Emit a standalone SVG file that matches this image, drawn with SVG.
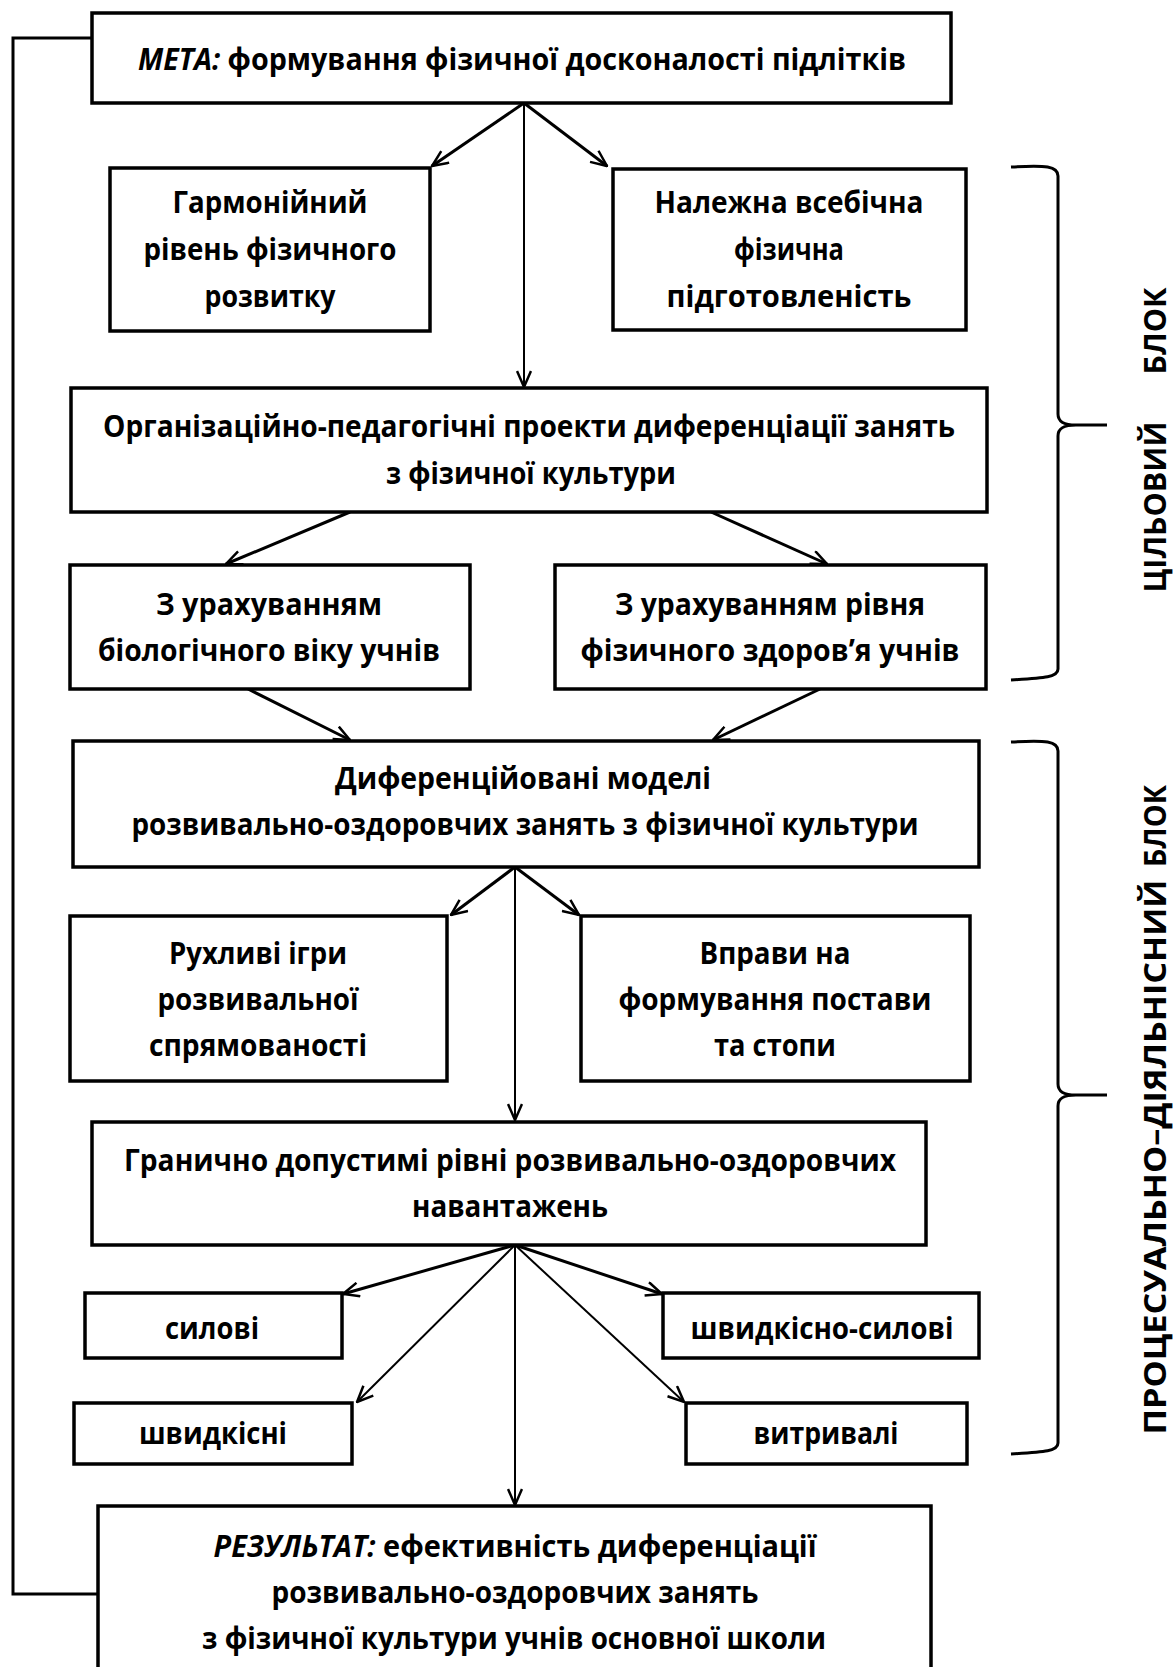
<svg xmlns="http://www.w3.org/2000/svg" width="1174" height="1667" viewBox="0 0 1174 1667">
<style>
.box{fill:#fff;stroke:#000;stroke-width:3.5}
.t{font-family:"Open Sans","Noto Sans",sans-serif;font-weight:bold;font-size:30px;text-anchor:middle;fill:#000}
.v{font-family:"Open Sans","Noto Sans",sans-serif;font-weight:bold;font-size:30px;text-anchor:middle;fill:#000}
.c{stroke:#000;stroke-width:3;fill:none}
.thin{stroke-width:2}
.br{stroke:#000;stroke-width:3;fill:none}
</style>
<defs>
<marker id="ah" viewBox="0 0 18 16" refX="17" refY="8" markerWidth="18" markerHeight="16" markerUnits="userSpaceOnUse" orient="auto">
<path d="M1,1 L17,8 L1,15" fill="none" stroke="#000" stroke-width="2.5"/>
</marker>
</defs>
<rect width="1174" height="1667" fill="#fff"/>

<g id="connectors">
<path class="c" d="M94,38 L13,38 L13,1594 L98,1594"/>
<line class="c" x1="524" y1="103" x2="432" y2="166" marker-end="url(#ah)"/>
<line class="c" x1="524" y1="103" x2="607" y2="166" marker-end="url(#ah)"/>
<line class="c thin" x1="524" y1="103" x2="524" y2="387" marker-end="url(#ah)"/>
<line class="c" x1="350" y1="512" x2="226" y2="564" marker-end="url(#ah)"/>
<line class="c" x1="711" y1="512" x2="827" y2="564" marker-end="url(#ah)"/>
<line class="c" x1="248" y1="689" x2="350" y2="740" marker-end="url(#ah)"/>
<line class="c" x1="820" y1="689" x2="713" y2="740" marker-end="url(#ah)"/>
<line class="c" x1="515" y1="867" x2="451" y2="915" marker-end="url(#ah)"/>
<line class="c" x1="515" y1="867" x2="579" y2="915" marker-end="url(#ah)"/>
<line class="c thin" x1="515" y1="867" x2="515" y2="1120" marker-end="url(#ah)"/>
<line class="c" x1="515" y1="1245" x2="343" y2="1294" marker-end="url(#ah)"/>
<line class="c" x1="515" y1="1245" x2="662" y2="1294" marker-end="url(#ah)"/>
<line class="c thin" x1="515" y1="1245" x2="357" y2="1402" marker-end="url(#ah)"/>
<line class="c thin" x1="515" y1="1245" x2="684" y2="1402" marker-end="url(#ah)"/>
<line class="c thin" x1="515" y1="1245" x2="515" y2="1505" marker-end="url(#ah)"/>
</g>

<g id="meta">
<rect class="box" x="92" y="13" width="859" height="90"/>
<text class="t" x="522" y="70" textLength="768" lengthAdjust="spacingAndGlyphs"><tspan font-style="italic">МЕТА:</tspan> формування фізичної досконалості підлітків</text>
</g>

<g id="harmonic">
<rect class="box" x="110" y="168" width="320" height="163"/>
<text class="t" x="270" y="213" textLength="195" lengthAdjust="spacingAndGlyphs">Гармонійний</text>
<text class="t" x="270" y="260" textLength="253" lengthAdjust="spacingAndGlyphs">рівень фізичного</text>
<text class="t" x="270" y="307" textLength="131" lengthAdjust="spacingAndGlyphs">розвитку</text>
</g>

<g id="prepared">
<rect class="box" x="613" y="169" width="353" height="161"/>
<text class="t" x="789" y="213" textLength="269" lengthAdjust="spacingAndGlyphs">Належна всебічна</text>
<text class="t" x="789" y="260" textLength="110" lengthAdjust="spacingAndGlyphs">фізична</text>
<text class="t" x="789" y="307" textLength="245" lengthAdjust="spacingAndGlyphs">підготовленість</text>
</g>

<g id="projects">
<rect class="box" x="71" y="388" width="916" height="124"/>
<text class="t" x="529" y="437" textLength="852" lengthAdjust="spacingAndGlyphs">Організаційно-педагогічні проекти диференціації занять</text>
<text class="t" x="531" y="484" textLength="290" lengthAdjust="spacingAndGlyphs">з фізичної культури</text>
</g>

<g id="bioage">
<rect class="box" x="70" y="565" width="400" height="124"/>
<text class="t" x="269" y="615" textLength="226" lengthAdjust="spacingAndGlyphs">З урахуванням</text>
<text class="t" x="269" y="661" textLength="342" lengthAdjust="spacingAndGlyphs">біологічного віку учнів</text>
</g>

<g id="health">
<rect class="box" x="555" y="565" width="431" height="124"/>
<text class="t" x="770" y="615" textLength="310" lengthAdjust="spacingAndGlyphs">З урахуванням рівня</text>
<text class="t" x="770" y="661" textLength="379" lengthAdjust="spacingAndGlyphs">фізичного здоров’я учнів</text>
</g>

<g id="models">
<rect class="box" x="73" y="741" width="906" height="126"/>
<text class="t" x="523" y="789" textLength="376" lengthAdjust="spacingAndGlyphs">Диференційовані моделі</text>
<text class="t" x="525" y="835" textLength="787" lengthAdjust="spacingAndGlyphs">розвивально-оздоровчих занять з фізичної культури</text>
</g>

<g id="games">
<rect class="box" x="70" y="916" width="377" height="165"/>
<text class="t" x="258" y="964" textLength="178" lengthAdjust="spacingAndGlyphs">Рухливі ігри</text>
<text class="t" x="258" y="1010" textLength="201" lengthAdjust="spacingAndGlyphs">розвивальної</text>
<text class="t" x="258" y="1056" textLength="218" lengthAdjust="spacingAndGlyphs">спрямованості</text>
</g>

<g id="posture">
<rect class="box" x="581" y="916" width="389" height="165"/>
<text class="t" x="775" y="964" textLength="151" lengthAdjust="spacingAndGlyphs">Вправи на</text>
<text class="t" x="775" y="1010" textLength="313" lengthAdjust="spacingAndGlyphs">формування постави</text>
<text class="t" x="775" y="1056" textLength="122" lengthAdjust="spacingAndGlyphs">та стопи</text>
</g>

<g id="loads">
<rect class="box" x="92" y="1122" width="834" height="123"/>
<text class="t" x="510" y="1171" textLength="772" lengthAdjust="spacingAndGlyphs">Гранично допустимі рівні розвивально-оздоровчих</text>
<text class="t" x="510" y="1217" textLength="196" lengthAdjust="spacingAndGlyphs">навантажень</text>
</g>

<g id="power">
<rect class="box" x="85" y="1293" width="257" height="65"/>
<text class="t" x="212" y="1339" textLength="94" lengthAdjust="spacingAndGlyphs">силові</text>
</g>

<g id="speedpower">
<rect class="box" x="663" y="1293" width="316" height="65"/>
<text class="t" x="822" y="1339" textLength="263" lengthAdjust="spacingAndGlyphs">швидкісно-силові</text>
</g>

<g id="speed">
<rect class="box" x="74" y="1403" width="278" height="61"/>
<text class="t" x="213" y="1444" textLength="148" lengthAdjust="spacingAndGlyphs">швидкісні</text>
</g>

<g id="endurance">
<rect class="box" x="686" y="1403" width="281" height="61"/>
<text class="t" x="826" y="1444" textLength="145" lengthAdjust="spacingAndGlyphs">витривалі</text>
</g>

<g id="result">
<rect class="box" x="98" y="1506" width="833" height="200"/>
<text class="t" x="515" y="1557" textLength="603" lengthAdjust="spacingAndGlyphs"><tspan font-style="italic">РЕЗУЛЬТАТ:</tspan> ефективність диференціації</text>
<text class="t" x="515" y="1603" textLength="487" lengthAdjust="spacingAndGlyphs">розвивально-оздоровчих занять</text>
<text class="t" x="514" y="1649" textLength="624" lengthAdjust="spacingAndGlyphs">з фізичної культури учнів основної школи</text>
</g>

<g id="target-block">
<path class="br" d="M1011,167 C1046,165 1058,166 1058,176 L1058,414 C1058,422 1064,425 1076,425 L1107,425 M1076,425 C1064,425 1058,428 1058,436 L1058,669 C1058,677 1046,678 1011,680"/>
<text class="v" transform="translate(1166,507) rotate(-90)" textLength="171" lengthAdjust="spacingAndGlyphs">ЦІЛЬОВИЙ</text>
<text class="v" transform="translate(1166,331) rotate(-90)" textLength="87" lengthAdjust="spacingAndGlyphs">БЛОК</text>
</g>

<g id="process-block">
<path class="br" d="M1011,742 C1046,740 1058,741 1058,751 L1058,1084 C1058,1092 1064,1095 1076,1095 L1107,1095 M1076,1095 C1064,1095 1058,1098 1058,1106 L1058,1443 C1058,1451 1046,1452 1011,1454"/>
<text class="v" transform="translate(1166,1157) rotate(-90)" textLength="555" lengthAdjust="spacingAndGlyphs">ПРОЦЕСУАЛЬНО–ДІЯЛЬНІСНИЙ</text>
<text class="v" transform="translate(1166,826) rotate(-90)" textLength="82" lengthAdjust="spacingAndGlyphs">БЛОК</text>
</g>
</svg>
